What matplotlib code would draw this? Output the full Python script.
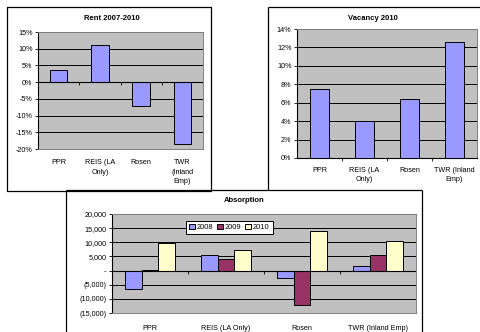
import numpy as np
import matplotlib
matplotlib.use("Agg")
import matplotlib.pyplot as plt
from matplotlib.lines import Line2D
from matplotlib.ticker import FuncFormatter, MultipleLocator

plt.rcParams['font.family'] = ['Liberation Sans', 'DejaVu Sans']

# rent change 2007-2010, percent
rent_labels = ["PPR", "REIS (LA\nOnly)", "Rosen", "TWR\n(Inland\nEmp)"]
rent_change = [3.5, 11.0, -7.1, -18.5]

# vacancy 2010, percent
vacancy_labels = ["PPR", "REIS (LA\nOnly)", "Rosen", "TWR (Inland\nEmp)"]
vacancy_rate = [7.5, 4.0, 6.4, 12.6]

# absorption, sq ft
absorption_labels = ["PPR", "REIS (LA Only)", "Rosen", "TWR (Inland Emp)"]
absorption_years = ["2008", "2009", "2010"]
absorption_2008 = [-6600, 5400, -2800, 1700]
absorption_2009 = [200, 4200, -12000, 5400]
absorption_2010 = [9800, 7100, 14100, 10600]

W, H = 481, 332
PLOT_BG = "#C0C0C0"
BAR_BLUE = "#9999FF"
BAR_PLUM = "#993366"
BAR_CREAM = "#FFFFCC"
FS = 5.2


def px_axes(fig, left, top, right, bottom):
    return fig.add_axes([left / W, 1 - bottom / H, (right - left) / W, (bottom - top) / H])


def px_line(fig, xs, ys):
    fig.add_artist(Line2D([x / W for x in xs], [1 - y / H for y in ys],
                          color="black", lw=0.9, solid_capstyle="butt"))


def excel_style(ax):
    ax.set_facecolor(PLOT_BG)
    ax.set_axisbelow(True)
    ax.yaxis.grid(True, color="black", lw=0.7)
    for side in ["top", "right", "bottom"]:
        ax.spines[side].set_color("#808080")
        ax.spines[side].set_linewidth(0.7)
    ax.spines["left"].set_color("black")
    ax.spines["left"].set_linewidth(0.8)
    ax.tick_params(axis="y", labelsize=FS, length=2.5, width=0.6, pad=1.5)
    ax.tick_params(axis="x", labelsize=FS, length=0, pad=6)
    ax.set_xlim(-0.5, 3.5)


fig = plt.figure(figsize=(W / 100, H / 100), dpi=100)

# boxes around the three charts
px_line(fig, [7, 211, 211, 7, 7], [7, 7, 191, 191, 7])
px_line(fig, [268, 481], [7, 7])
px_line(fig, [268, 268], [7, 190])
px_line(fig, [66, 422], [190, 190])
px_line(fig, [66, 66], [190, 332])
px_line(fig, [422, 422], [190, 332])

x = np.arange(4)
bounds = [0.5, 1.5, 2.5]

# Rent 2007-2010
ax1 = px_axes(fig, 38, 32, 203, 149)
excel_style(ax1)
ax1.bar(x, rent_change, width=0.42, color=BAR_BLUE, edgecolor="black", lw=0.7, zorder=3)
ax1.set_ylim(-20, 15)
ax1.yaxis.set_major_locator(MultipleLocator(5))
ax1.yaxis.set_major_formatter(FuncFormatter(lambda v, p: "%d%%" % v))
ax1.axhline(0, color="black", lw=0.8, zorder=4)
ax1.plot(bounds, [0] * 3, ls="none", marker=3, ms=2.5, mew=0.6, color="black", zorder=4)
ax1.set_xticks(x)
ax1.set_xticklabels(rent_labels, linespacing=1.45)
ax1.tick_params(axis="x", pad=7.5)
fig.text(112 / W, 1 - 18 / H, "Rent 2007-2010", ha="center", va="center",
         fontsize=5.5, fontweight="bold")

# Vacancy 2010
ax2 = px_axes(fig, 297, 29, 477, 158)
excel_style(ax2)
ax2.bar(x, vacancy_rate, width=0.42, color=BAR_BLUE, edgecolor="black", lw=0.7, zorder=3)
ax2.set_ylim(0, 14)
ax2.yaxis.set_major_locator(MultipleLocator(2))
ax2.yaxis.set_major_formatter(FuncFormatter(lambda v, p: "%d%%" % v))
ax2.spines["bottom"].set_color("black")
ax2.spines["bottom"].set_linewidth(0.8)
ax2.set_xticks(x)
ax2.set_xticklabels(vacancy_labels, linespacing=1.45)
ax2.set_xticks(bounds, minor=True)
ax2.tick_params(axis="x", which="minor", length=2.5, width=0.6)
ax2.tick_params(axis="x", which="major", pad=6.5)
fig.text(373 / W, 1 - 18 / H, "Vacancy 2010", ha="center", va="center",
         fontsize=5.5, fontweight="bold")


def thousands(v, p):
    if v == 0:
        return "-"
    if v < 0:
        return "({:,.0f})".format(-v)
    return "{:,.0f}".format(v)


# Absorption
ax3 = px_axes(fig, 112, 214, 416, 313)
excel_style(ax3)
bw = 0.222
series = [absorption_2008, absorption_2009, absorption_2010]
colors = [BAR_BLUE, BAR_PLUM, BAR_CREAM]
for i, (vals, c, yr) in enumerate(zip(series, colors, absorption_years)):
    ax3.bar(x + (i - 1) * bw, vals, width=bw, color=c, edgecolor="black", lw=0.7,
            zorder=3, label=yr)
ax3.set_ylim(-15000, 20000)
ax3.yaxis.set_major_locator(MultipleLocator(5000))
ax3.yaxis.set_major_formatter(FuncFormatter(thousands))
ax3.axhline(0, color="black", lw=0.8, zorder=4)
ax3.plot(bounds, [0] * 3, ls="none", marker=3, ms=2.5, mew=0.6, color="black", zorder=4)
ax3.set_xticks(x)
ax3.set_xticklabels(absorption_labels)
ax3.tick_params(axis="x", pad=9)
leg = ax3.legend(loc="upper left", bbox_to_anchor=(0.232, 0.97), ncol=3, fontsize=5.4,
                 handlelength=0.75, handleheight=0.75, handletextpad=0.3,
                 columnspacing=0.45, borderpad=0.4, fancybox=False,
                 edgecolor="black", framealpha=1)
leg.get_frame().set_linewidth(0.7)
fig.text(244 / W, 1 - 200 / H, "Absorption", ha="center", va="center",
         fontsize=5.5, fontweight="bold")

fig.savefig("out.png", dpi=100)
